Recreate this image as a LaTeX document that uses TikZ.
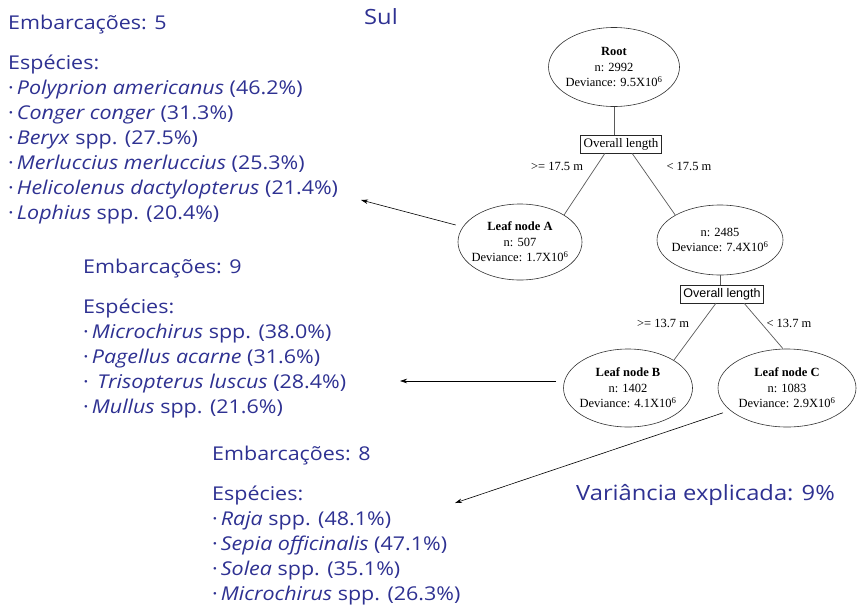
\documentclass[tikz,border=0pt]{standalone}
\usepackage{fontspec}
\setmainfont{Liberation Serif}
\newfontfamily\comic[FakeStretch=1.13]{Open Sans}
\newfontfamily\arialish{Liberation Sans}
\usetikzlibrary{shapes.geometric,arrows.meta}
\definecolor{txtblue}{RGB}{46,49,146}
\definecolor{treeline}{RGB}{90,90,90}
\newcommand{\bul}{\textperiodcentered\hspace{3pt}}
\begin{document}
\begin{tikzpicture}[x=1pt,y=-1pt,
  bluetext/.style={anchor=north west,inner sep=0pt,align=left,text=txtblue,
    font=\comic\fontsize{19}{25}\selectfont},
  treenode/.style={ellipse,draw=black!80,line width=0.6pt,inner xsep=-9pt,inner ysep=0pt,align=center,
    font=\fontsize{12.5}{15.5}\selectfont},
  splitbox/.style={draw=black!85,line width=0.6pt,inner sep=3pt,font=\fontsize{13}{14}\selectfont},
  branch/.style={draw=treeline,line width=0.7pt},
  edgelab/.style={inner sep=0pt,font=\fontsize{12.5}{13}\selectfont},
  pointer/.style={draw=black,line width=0.6pt,-{Stealth[length=7pt,width=4.5pt]}}]
\useasboundingbox[fill=white] (0,0) rectangle (858,608);

% ---------- tree ----------
\node[treenode,minimum width=131,minimum height=79] (root) at (614,67)
  {\textbf{Root}\\n: 2992\\Deviance: 9.5X10\textsuperscript{6}};
\node[splitbox] (split1) at (621,144) {Overall length};
\node[treenode,minimum width=124,minimum height=76] (leafA) at (520,242)
  {\textbf{Leaf node A}\\n: 507\\Deviance: 1.7X10\textsuperscript{6}};
\node[treenode,minimum width=126,minimum height=70] (mid) at (720,240)
  {n: 2485\\Deviance: 7.4X10\textsuperscript{6}};
\node[splitbox,font=\arialish\fontsize{12.5}{14}\selectfont] (split2) at (722,294) {Overall length};
\node[treenode,minimum width=129,minimum height=78] (leafB) at (628,388)
  {\textbf{Leaf node B}\\n: 1402\\Deviance: 4.1X10\textsuperscript{6}};
\node[treenode,minimum width=138,minimum height=78] (leafC) at (787,388)
  {\textbf{Leaf node C}\\n: 1083\\Deviance: 2.9X10\textsuperscript{6}};

\draw[branch] (root.south) -- (root.south |- split1.north);
\draw[branch] ([xshift=-16pt]split1.south) -- (leafA.north east);
\draw[branch] ([xshift=11pt]split1.south) -- (mid.north west);
\draw[branch] (mid.south) -- (mid.south |- split2.north);
\draw[branch] ([xshift=-6pt]split2.south) -- (leafB.north east);
\draw[branch] ([xshift=22pt]split2.south) -- ([xshift=-4pt]leafC.north);

\node[edgelab] (lab1) at (557,166) {>= 17.5 m};
\node[edgelab] (lab2) at (689,166) {< 17.5 m};
\node[edgelab] (lab3) at (663,323) {>= 13.7 m};
\node[edgelab] (lab4) at (789,323) {< 13.7 m};

% ---------- text ----------
\node[text=txtblue,inner sep=0pt,font=\comic\fontsize{21}{22}\selectfont] (sul) at (381,17) {Sul};

\node[bluetext] (grpA) at (8,15) {Embarcações: 5\\[15pt]
Espécies:\\
\bul\textit{Polyprion americanus} (46.2\%)\\
\bul\textit{Conger conger} (31.3\%)\\
\bul\textit{Beryx} spp. (27.5\%)\\
\bul\textit{Merluccius merluccius} (25.3\%)\\
\bul\textit{Helicolenus dactylopterus} (21.4\%)\\
\bul\textit{Lophius} spp. (20.4\%)};

\node[bluetext] (grpB) at (83,259) {Embarcações: 9\\[15pt]
Espécies:\\
\bul\textit{Microchirus} spp. (38.0\%)\\
\bul\textit{Pagellus acarne} (31.6\%)\\
\bul\textit{ Trisopterus luscus} (28.4\%)\\
\bul\textit{Mullus} spp. (21.6\%)};

\node[bluetext] (grpC) at (212,446) {Embarcações: 8\\[15pt]
Espécies:\\
\bul\textit{Raja} spp. (48.1\%)\\
\bul\textit{Sepia officinalis} (47.1\%)\\
\bul\textit{Solea} spp. (35.1\%)\\
\bul\textit{Microchirus} spp. (26.3\%)};

\node[anchor=west,inner sep=0pt,text=txtblue,font=\comic\fontsize{21}{22}\selectfont] (var) at (576,495) {Variância explicada: 9\%};

% ---------- pointers ----------
\coordinate (tipA) at (361,200);
\coordinate (tipB) at (400,381);
\coordinate (tipC) at (455,503);
\draw[pointer] (leafA.west) ++(-2pt,17pt) -- (tipA);
\draw[pointer] (leafB.west) ++(-7pt,7pt) -- (tipB);
\draw[pointer] (leafC.south west) ++(-15pt,3pt) -- (tipC);
\end{tikzpicture}
\end{document}
